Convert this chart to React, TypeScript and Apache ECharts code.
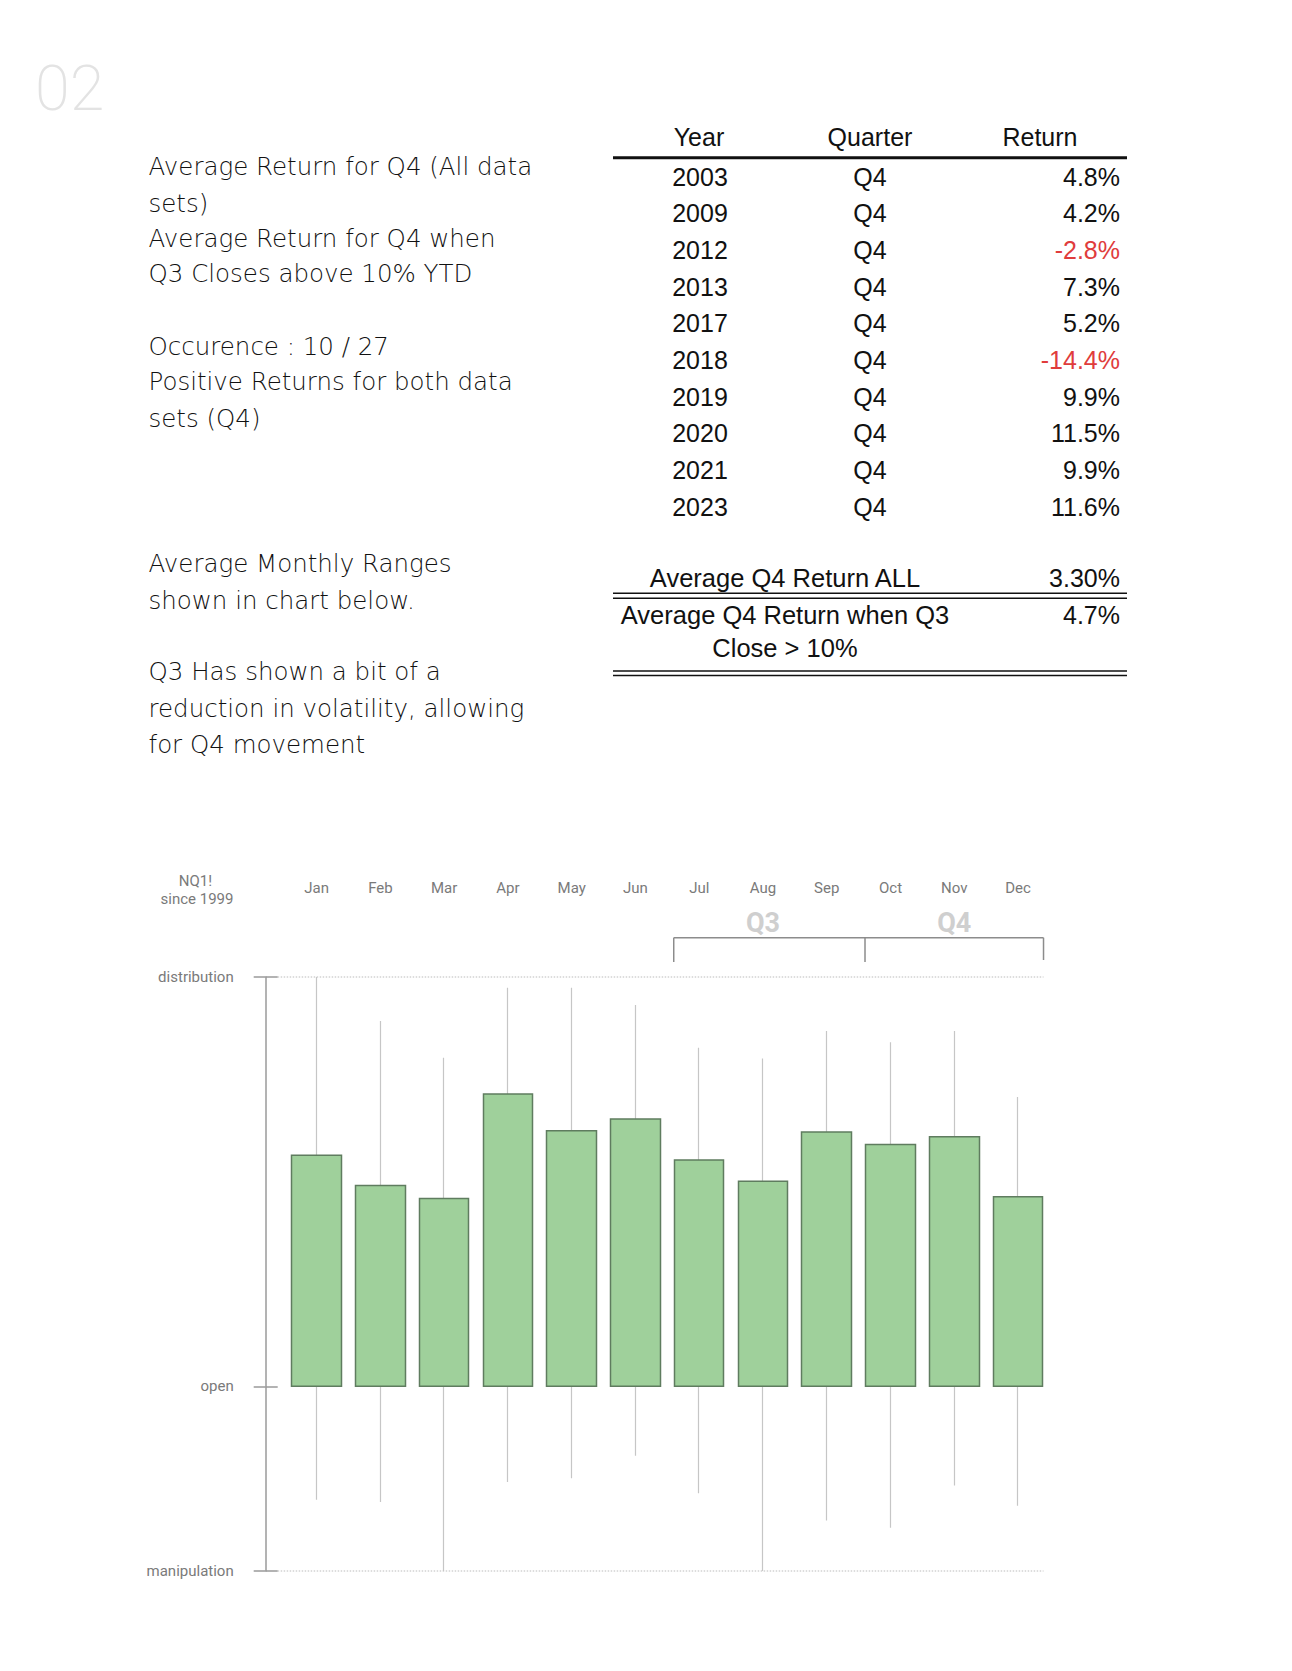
import React, { useEffect, useRef } from 'react';
import * as echarts from 'echarts';

// ---------- chart data ----------
const months = ['Jan', 'Feb', 'Mar', 'Apr', 'May', 'Jun', 'Jul', 'Aug', 'Sep', 'Oct', 'Nov', 'Dec'];
const openLevel = 31.1;
const closeValues = [70.0, 64.9, 62.7, 80.3, 74.1, 76.1, 69.2, 65.6, 73.9, 71.8, 73.1, 63.0];
const lowValues = [12.0, 11.6, 0, 15.0, 15.6, 19.4, 13.1, 0, 8.5, 7.3, 14.4, 11.0];
const highValues = [100, 92.6, 86.4, 98.2, 98.2, 95.3, 88.1, 86.3, 90.9, 89.0, 90.9, 79.8];
const levelValues = [0, 31.1, 100];
const levelNames = ['manipulation', 'open', 'distribution'];
const gridLevels = [0, 100];
const quarterNames = ['Q3', 'Q4'];
const quarterStart = [6, 9];
const quarterEnd = [8, 11];

// ---------- table data ----------
const tableHeaders = ['Year', 'Quarter', 'Return'];
const years = ['2003', '2009', '2012', '2013', '2017', '2018', '2019', '2020', '2021', '2023'];
const quarters = ['Q4', 'Q4', 'Q4', 'Q4', 'Q4', 'Q4', 'Q4', 'Q4', 'Q4', 'Q4'];
const returns = [4.8, 4.2, -2.8, 7.3, 5.2, -14.4, 9.9, 11.5, 9.9, 11.6];
const summaryLabels = ['Average Q4 Return ALL', 'Average Q4 Return when Q3', 'Close > 10%'];
const summaryValues = ['3.30%', '4.7%'];

// ---------- notes ----------
const notesA = [
  'Average Return for Q4 (All data',
  'sets)',
  'Average Return for Q4 when',
  'Q3 Closes above 10% YTD',
];
const notesB = ['Occurence : 10 / 27', 'Positive Returns for both data', 'sets (Q4)'];
const notesC = ['Average Monthly Ranges', 'shown in chart below.'];
const notesD = ['Q3 Has shown a bit of a', 'reduction in volatility, allowing', 'for Q4 movement'];

const NOTE_FONT = '"DejaVu Sans"';
const TABLE_FONT = '"Liberation Sans", Arial, sans-serif';

function txt(text: string, x: number, y: number, o: any = {}) {
  const align = o.align || 'left';
  return {
    type: 'text',
    silent: true,
    z: 10,
    style: {
      text,
      x,
      y,
      fill: o.fill || '#111',
      fontSize: o.fontSize || 25,
      fontFamily: o.fontFamily || NOTE_FONT,
      fontWeight: o.fontWeight || 'normal',
      align,
      textAlign: align,
      verticalAlign: 'middle',
      textVerticalAlign: 'middle',
    },
  };
}

function ln(x1: number, y1: number, x2: number, y2: number, stroke: string, lineWidth: number, dash?: number[]) {
  return {
    type: 'line',
    silent: true,
    z: 10,
    shape: { x1, y1, x2, y2 },
    style: dash ? { stroke, lineWidth, lineDash: dash } : { stroke, lineWidth },
  };
}

export default function App() {
  const ref = useRef<HTMLDivElement>(null);

  useEffect(() => {
    if (!ref.current) return;
    const chart = echarts.init(ref.current, undefined, { renderer: 'svg' });

    const axisGray = '#9a9a9a';
    const labelGray = '#7a7a7a';
    const axisOffset = 19.1;
    const tickLen = 12;

    const option: any = {
      animation: false,
      backgroundColor: '#ffffff',
      grid: { left: 284.8, right: 242.1, top: 977, bottom: 100 },
      xAxis: {
        type: 'category',
        data: months,
        position: 'top',
        boundaryGap: true,
        axisLine: { show: false },
        axisTick: { show: false },
        splitLine: { show: false },
        axisLabel: {
          margin: 89,
          verticalAlign: 'middle',
          color: labelGray,
          fontSize: 15,
          fontFamily: 'Roboto',
        },
      },
      yAxis: [
        {
          type: 'value',
          min: 0,
          max: 100,
          position: 'left',
          offset: axisOffset,
          axisLine: { show: true, lineStyle: { color: axisGray, width: 1.5 } },
          axisTick: {
            show: true,
            length: tickLen,
            customValues: levelValues,
            lineStyle: { color: axisGray, width: 1.5 },
          },
          axisLabel: {
            customValues: levelValues,
            margin: 32,
            color: labelGray,
            fontSize: 15,
            fontFamily: 'Roboto',
            formatter: (v: number) => {
              const i = levelValues.indexOf(v);
              return i >= 0 ? levelNames[i] : '';
            },
          },
          splitLine: { show: false },
        },
        {
          type: 'value',
          min: 0,
          max: 100,
          position: 'left',
          offset: axisOffset,
          axisLine: { show: false },
          axisTick: {
            show: true,
            inside: true,
            length: tickLen,
            customValues: levelValues,
            lineStyle: { color: axisGray, width: 1.5 },
          },
          axisLabel: { show: false },
          splitLine: { show: false },
        },
      ],
      series: [
        {
          name: 'range',
          type: 'candlestick',
          yAxisIndex: 0,
          barWidth: 1,
          z: 1,
          silent: true,
          data: months.map((_, i) => [openLevel, closeValues[i], lowValues[i], highValues[i]]),
          itemStyle: {
            color: '#c6c6c6',
            color0: '#c6c6c6',
            borderColor: '#c6c6c6',
            borderColor0: '#c6c6c6',
            borderWidth: 1.2,
          },
        },
        {
          name: 'body',
          type: 'candlestick',
          yAxisIndex: 0,
          barWidth: 50,
          z: 2,
          silent: true,
          data: months.map((_, i) => [openLevel, closeValues[i], openLevel, closeValues[i]]),
          itemStyle: {
            color: '#9fd09b',
            color0: '#9fd09b',
            borderColor: '#5f7c5f',
            borderColor0: '#5f7c5f',
            borderWidth: 1.5,
          },
        },
      ],
    };
    chart.setOption(option);

    // ---------- annotations (pixel positions derived from the axes) ----------
    const px = (i: number) => chart.convertToPixel({ xAxisIndex: 0 }, months[i]) as number;
    const py = (v: number) => chart.convertToPixel({ yAxisIndex: 0 }, v) as number;
    const half = 25.5;
    const g: any[] = [];

    // dotted level lines from the tick end to the last box edge
    const axisX = px(0) - (px(1) - px(0)) / 2 - axisOffset;
    gridLevels.forEach((lv) => {
      const y = py(lv);
      g.push({ ...ln(axisX + tickLen, y, px(months.length - 1) + half, y, '#d2d2d2', 1.5, [1.5, 1.5]), z: 0 });
    });

    // big page number
    g.push(txt('02', 35, 88, { fontSize: 63, fontWeight: 200, fill: '#e3e3e3', fontFamily: 'Roboto' }));

    // notes
    const noteX = 148.5;
    const noteStyle = { fontSize: 24.5, fontWeight: 200, fill: '#111' };
    const notesAy = [166.7, 203.3, 238.3, 273.3];
    notesA.forEach((t, i) => g.push(txt(t, noteX, notesAy[i], noteStyle)));
    const notesBy = [346, 381.7, 418.3];
    notesB.forEach((t, i) => g.push(txt(t, noteX, notesBy[i], noteStyle)));
    const notesCy = [563.3, 600];
    notesC.forEach((t, i) => g.push(txt(t, noteX, notesCy[i], noteStyle)));
    const notesDy = [671.7, 708.3, 744.3];
    notesD.forEach((t, i) => g.push(txt(t, noteX, notesDy[i], noteStyle)));

    // table
    const tStyle = { fontSize: 25, fontFamily: TABLE_FONT, fill: '#111' };
    const colX = [699, 870, 1040];
    tableHeaders.forEach((h, i) => g.push(txt(h, colX[i], 136.7, { ...tStyle, align: 'center' })));
    g.push(ln(613, 157.7, 1127, 157.7, '#111', 3));
    const rowY0 = 176.7;
    const rowH = 36.67;
    years.forEach((y, i) => {
      const yy = rowY0 + i * rowH;
      g.push(txt(y, 700, yy, { ...tStyle, align: 'center' }));
      g.push(txt(quarters[i], 870, yy, { ...tStyle, align: 'center' }));
      const r = returns[i];
      g.push(
        txt(r.toFixed(1) + '%', 1120, yy, {
          ...tStyle,
          align: 'right',
          fill: r < 0 ? '#e03c3c' : '#111',
        })
      );
    });

    // summary
    g.push(txt(summaryLabels[0], 785, 578, { ...tStyle, align: 'center', fontSize: 25.5 }));
    g.push(txt(summaryValues[0], 1120, 578, { ...tStyle, align: 'right' }));
    g.push(ln(613, 593.3, 1127, 593.3, '#111', 1.5));
    g.push(ln(613, 598.3, 1127, 598.3, '#111', 1.5));
    g.push(txt(summaryLabels[1], 785, 615, { ...tStyle, align: 'center', fontSize: 25.5 }));
    g.push(txt(summaryValues[1], 1120, 615, { ...tStyle, align: 'right' }));
    g.push(txt(summaryLabels[2], 785, 648.3, { ...tStyle, align: 'center', fontSize: 25.5 }));
    g.push(ln(613, 671, 1127, 671, '#111', 1.5));
    g.push(ln(613, 675.5, 1127, 675.5, '#111', 1.5));

    // chart corner label
    g.push(txt('NQ1!', 195.5, 880.7, { fontSize: 15, fill: '#7a7a7a', align: 'center', fontFamily: 'Roboto' }));
    g.push(txt('since 1999', 197, 899.3, { fontSize: 15, fill: '#7a7a7a', align: 'center', fontFamily: 'Roboto' }));

    // quarter brackets
    const bracketY = 937.7;
    const bracketBottom = 962;
    const bColor = '#8c8c8c';
    const qLeft = px(quarterStart[0]) - half;
    const qRight = px(quarterEnd[quarterEnd.length - 1]) + half;
    g.push(ln(qLeft, bracketY, qRight, bracketY, bColor, 1.5));
    quarterNames.forEach((q, k) => {
      const l = px(quarterStart[k]) - half;
      g.push(ln(l, bracketY, l, bracketBottom, bColor, 1.5));
      g.push(
        txt(q, px(quarterStart[k] + 1), 923, {
          fontSize: 27,
          fontWeight: 'bold',
          fill: '#cfcfcf',
          align: 'center',
          fontFamily: 'Roboto',
        })
      );
    });
    g.push(ln(qRight, bracketY, qRight, bracketBottom - 2, bColor, 1.5));

    chart.setOption({ graphic: g });

    return () => {
      chart.dispose();
    };
  }, []);

  return (
    <div
      ref={ref}
      style={{ position: 'absolute', left: 0, top: 0, width: 1292, height: 1671, background: '#fff' }}
    />
  );
}
